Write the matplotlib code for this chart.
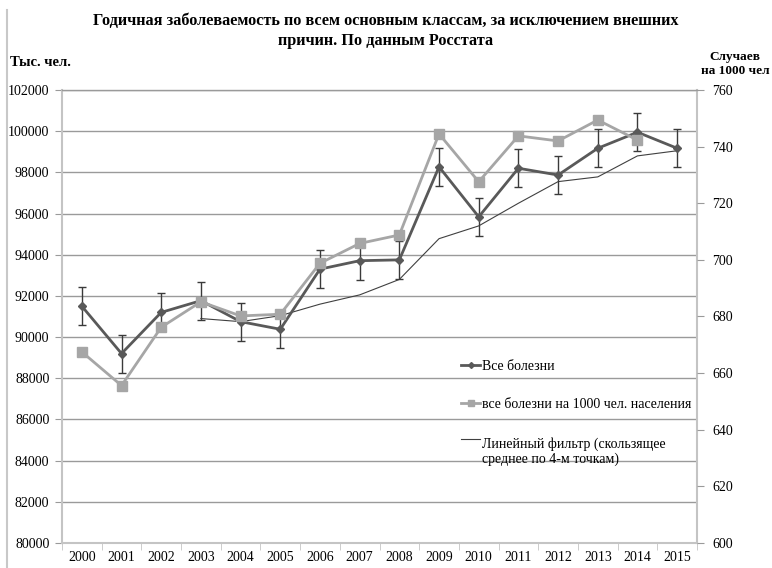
import numpy as np
import matplotlib.pyplot as plt
from matplotlib.lines import Line2D

plt.rcParams['font.family'] = ['Liberation Serif', 'DejaVu Serif']

years = [str(y) for y in range(2000, 2016)]

# все болезни, тыс. чел.
all_cases = [91500, 89200, 91200, 91770, 90750, 90380, 93300, 93710, 93750,
             98270, 95840, 98200, 97870, 99170, 99950, 99170]
all_err = [920] * 16

# все болезни на 1000 чел. населения (нет данных за 2015)
per_1000 = [667.5, 655.6, 676.2, 685.2, 680.2, 680.8, 698.8, 705.8, 708.8,
            744.5, 727.6, 743.8, 742.0, 749.4, 742.3]

# скользящее среднее по 4-м точкам, начиная с 2003
ma_years = years[3:]
ma_values = [90900, 90750, 91040, 91600, 92050, 92800, 94780, 95400, 96500,
             97550, 97780, 98800, 99050]

dark = '#595959'
light = '#a6a6a6'
grid_c = '#9a9a9a'
spine_c = '#c4c4c4'

fig = plt.figure(figsize=(7.72, 5.68), dpi=100)
ax = fig.add_axes([62 / 772, 1 - 543 / 568, (697 - 62) / 772, (543 - 90) / 568])
ax2 = ax.twinx()

x = np.arange(len(years))
x_ma = np.arange(3, 3 + len(ma_years))
x_per = np.arange(len(per_1000))

# left axis
ax.set_ylim(80000, 102000)
ax.set_yticks(np.arange(80000, 102001, 2000))
ax.set_xlim(-0.5, len(years) - 0.5)
ax.set_xticks(x)
ax.set_xticklabels(years)
ax.set_xticks(np.arange(-0.5, len(years)), minor=True)
ax.tick_params(axis='x', which='major', length=0, labelsize=10, pad=6)
ax.tick_params(axis='x', which='minor', length=5, color=spine_c, direction='out')
ax.tick_params(axis='y', length=5, color=grid_c, labelsize=10, pad=4)
ax.yaxis.grid(True, color=grid_c, linewidth=1)
ax.set_axisbelow(True)

for s in ['left', 'right', 'bottom', 'top']:
    ax.spines[s].set_color(spine_c)
    ax.spines[s].set_linewidth(1.5)
ax.spines['top'].set_color(grid_c)
ax.spines['top'].set_linewidth(1)

# right axis
ax2.set_ylim(600, 760)
ax2.set_yticks(np.arange(600, 761, 20))
ax2.tick_params(axis='y', length=5, color=grid_c, labelsize=10, pad=6)
for s in ['left', 'right', 'bottom', 'top']:
    ax2.spines[s].set_visible(False)

ax.plot(x_ma, ma_values, color='#404040', linewidth=0.8, zorder=2)
ax.errorbar(x, all_cases, yerr=all_err, color=dark, linewidth=2, marker='D',
            markersize=4.5, ecolor='#3a3a3a', elinewidth=1, capsize=3,
            capthick=1, zorder=3)
ax2.plot(x_per, per_1000, color=light, linewidth=2, marker='s', markersize=7)

# legend, no frame, over the gridlines
handles = [
    Line2D([], [], color=dark, linewidth=2, marker='D', markersize=3),
    Line2D([], [], color=light, linewidth=2, marker='s', markersize=5),
    Line2D([], [], color='#404040', linewidth=0.8),
]
labels = ['Все болезни', 'все болезни на 1000 чел. населения',
          'Линейный фильтр (скользящее\nсреднее по 4-м точкам)']
leg = fig.legend(handles, labels, loc='upper left',
                 bbox_to_anchor=(449 / 772, 1 - 347 / 568),
                 frameon=False, fontsize=10, handlelength=1.3, handletextpad=0.15,
                 labelspacing=1.85)
# put the last handle level with the first line of its label
ma_handle = leg.legend_handles[2]
ma_handle.set_ydata(np.asarray(ma_handle.get_ydata()) + 9)

fig.text(0.5, 1 - 13 / 568, 'Годичная заболеваемость по всем основным классам, за исключением внешних\n'
         'причин. По данным Росстата', ha='center', va='top', fontsize=11.7,
         fontweight='bold', linespacing=1.3)
fig.text(10 / 772, 1 - 62 / 568, 'Тыс. чел.', ha='left', va='center', fontsize=10.5,
         fontweight='bold')
fig.text(735 / 772, 1 - 64 / 568, 'Случаев\nна 1000 чел', ha='center', va='center',
         fontsize=9.5, fontweight='bold', linespacing=1.3)

# thin frame line at the left edge
fig.add_artist(Line2D([7 / 772, 7 / 772], [0, 1 - 10 / 568], color='#c8c8c8',
                      linewidth=1.5))

fig.savefig('out.png', dpi=100)
